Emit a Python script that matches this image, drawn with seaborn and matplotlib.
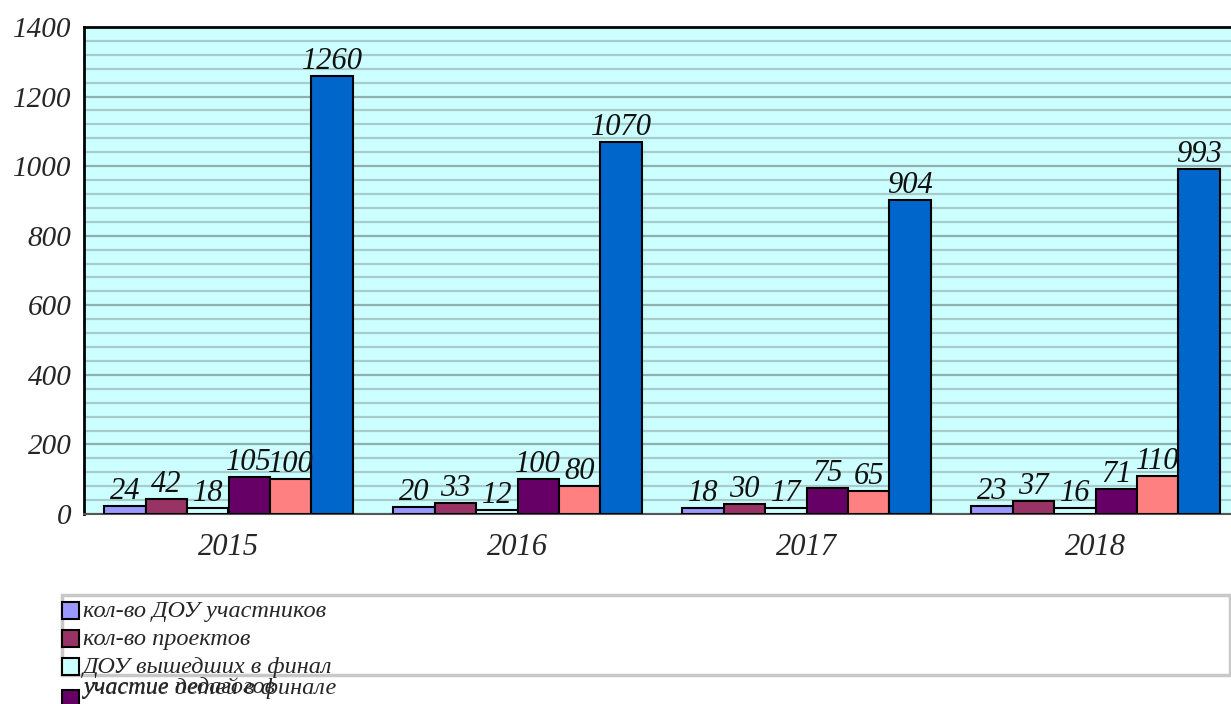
import matplotlib
matplotlib.use("Agg")
import matplotlib.pyplot as plt
import matplotlib.patches as mpatches
import seaborn as sns
import pandas as pd
import numpy as np

years = ["2015", "2016", "2017", "2018"]
series = ["кол-во ДОУ участников", "кол-во проектов", "ДОУ вышедших в финал",
          "участие детей в финале", "участие педагогов", "количество детей участников"]
v_dou = [24, 20, 18, 23]
v_proj = [42, 33, 30, 37]
v_final = [18, 12, 17, 16]
v_kids_final = [105, 100, 75, 71]
v_teachers = [100, 80, 65, 110]
v_kids = [1260, 1070, 904, 993]
colors = ["#9999FF", "#993366", "#CCFFFF", "#660066", "#FF8080", "#0066CC"]

values = [v_dou, v_proj, v_final, v_kids_final, v_teachers, v_kids]
rows = []
for s, vals in zip(series, values):
    for y, v in zip(years, vals):
        rows.append({"year": y, "series": s, "value": v})
df = pd.DataFrame(rows)

sns.set_style("white")
plt.rcParams["font.family"] = ["Liberation Serif", "DejaVu Serif"]

fig = plt.figure(figsize=(12.31, 7.04), dpi=100)
ax = fig.add_axes([84/1231, 1-514/704, 1156/1231, (514-27)/704])
ax.set_facecolor("#CCFFFF")

sns.barplot(data=df, x="year", y="value", hue="series", order=years, hue_order=series,
            palette=colors, saturation=1, width=0.86, edgecolor="black", linewidth=1.5,
            legend=False, ax=ax, zorder=3)

ax.set_xlim(-0.5, 3.5)
ax.set_ylim(0, 1400)
ax.set_yticks(np.arange(0, 1401, 200))
ax.set_yticks(np.arange(0, 1401, 40), minor=True)
ax.grid(True, which="minor", axis="y", color="#A8CCCC", linewidth=1.6, zorder=0)
ax.grid(True, which="major", axis="y", color="#90B0B0", linewidth=1.6, zorder=0)
ax.set_axisbelow(True)
ax.set_xlabel("")
ax.set_ylabel("")

ax.set_xticks([0, 1, 2, 3])
ax.set_xticks([0.5, 1.5, 2.5], minor=True)
ax.tick_params(axis="x", which="major", length=0, pad=14)
ax.tick_params(axis="x", which="minor", length=10, color="#BBBBBB", width=1.5)
ax.tick_params(axis="y", which="major", length=6, color="#999999", width=1.2, pad=3)
ax.tick_params(axis="y", which="minor", length=0)
for lab in ax.get_xticklabels():
    lab.set_fontsize(22)
    lab.set_fontstyle("italic")
for lab in ax.get_yticklabels():
    lab.set_fontsize(21)
    lab.set_fontstyle("italic")

for sp in ["left", "top"]:
    ax.spines[sp].set_color("black")
    ax.spines[sp].set_linewidth(2)
ax.spines["bottom"].set_color("#555555")
ax.spines["bottom"].set_linewidth(1.5)
ax.spines["right"].set_visible(False)

for cont in ax.containers:
    ax.bar_label(cont, fontsize=22, fontstyle="italic", padding=0, color="#111111")

# legend (drawn manually to mimic the clipped, overlapping original)
W, H = 1231, 704
def fx(x): return x / W
def fy(y): return 1 - y / H
box = mpatches.Rectangle((fx(62), fy(675)), fx(1230) - fx(62), fy(595) - fy(675),
                         transform=fig.transFigure, fill=False, edgecolor="#C8C8C8",
                         linewidth=2.5, zorder=1)
fig.patches.append(box)
entries = [(0, 611), (1, 639), (2, 667), (3, 699)]
for idx, yc in entries:
    sq = mpatches.Rectangle((fx(62), fy(yc + 8)), fx(17), 17 / H,
                            transform=fig.transFigure, facecolor=colors[idx],
                            edgecolor="black", linewidth=1.5, zorder=3)
    fig.patches.append(sq)
for idx, yc in entries[:3]:
    fig.text(fx(83), fy(yc), series[idx], fontsize=17.5, fontstyle="italic",
             va="center", ha="left", zorder=4)
fig.text(fx(83), fy(688), series[3], fontsize=17.5, fontstyle="italic",
         va="center", ha="left", zorder=4)
fig.text(fx(83), fy(688), series[4], fontsize=17.5, fontstyle="italic",
         va="center", ha="left", zorder=4)

fig.savefig("out.png", dpi=100)
